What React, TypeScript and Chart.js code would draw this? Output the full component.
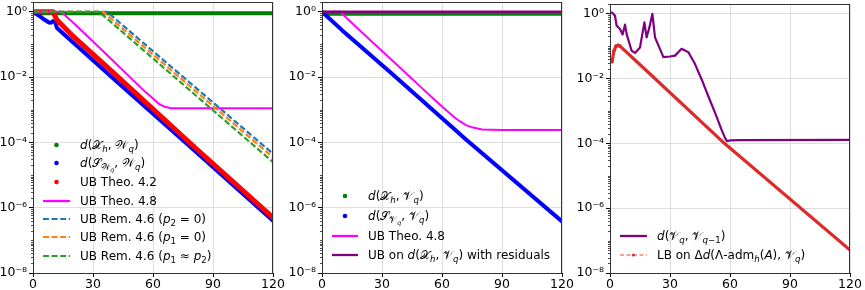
import React, { useEffect, useRef } from 'react';
import { Chart, registerables } from 'chart.js';
Chart.register(...registerables);

const FONT = "'DejaVu Sans', sans-serif";

const X_TICKS = [0, 30, 60, 90, 120];
const Y_TICK_VALUES = [1, 1e-2, 1e-4, 1e-6, 1e-8];
const Y_TICK_LABELS = ['10\u2070', '10\u207B\u00B2', '10\u207B\u2074', '10\u207B\u2076', '10\u207B\u2078'];
const Y_MIN = 1e-8;
const Y_MAX = 2;

// ---------- Panel 1 ----------
const p1XhWqQ = [0, 120];
const p1XhWqV = [0.9, 0.9];
const p1SWqQ = [0, 3, 6, 8, 9, 10, 11, 12, 40, 80, 120];
const p1SWqV = [1.0, 0.76, 0.56, 0.47, 0.46, 0.52, 0.5, 0.32, 9.3e-3, 6.2e-5, 4.0e-7];
const p1UB42Q = [0, 10, 12, 20, 40, 80, 120];
const p1UB42V = [1, 1, 0.56, 0.18, 1.4e-2, 7.9e-5, 5.0e-7];
const p1UB48Q = [0, 14, 20, 30, 40, 50, 56, 60, 63, 66, 69, 120];
const p1UB48V = [1, 1, 0.47, 0.123, 0.0316, 8.1e-3, 3.6e-3, 2.2e-3, 1.5e-3, 1.23e-3, 1.12e-3, 1.12e-3];
const p1Rem46p2Q = [0, 37, 120];
const p1Rem46p2V = [1, 1, 4.5e-5];
const p1Rem46p1Q = [0, 35, 120];
const p1Rem46p1V = [1, 1, 3.5e-5];
const p1Rem46eqQ = [0, 33, 120];
const p1Rem46eqV = [1, 1, 2.5e-5];

// ---------- Panel 2 ----------
const p2XhVqQ = [0, 120];
const p2XhVqV = [0.88, 0.88];
const p2SVqQ = [0, 10, 35, 72, 120];
const p2SVqV = [1, 0.275, 0.0126, 1.23e-4, 3.8e-7];
const p2UB48Q = [0, 9, 20, 30, 40, 50, 56, 60, 63, 66, 69, 72, 75, 80, 90, 120];
const p2UB48V = [1, 1, 0.234, 0.063, 0.017, 4.6e-3, 2.1e-3, 1.26e-3, 8.7e-4, 6.0e-4, 4.4e-4, 3.4e-4, 2.9e-4, 2.5e-4, 2.4e-4, 2.4e-4];
const p2ResQ = [0, 120];
const p2ResV = [1.0, 1.0];

// ---------- Panel 3 ----------
const p3VqQ = [1, 2.5, 3.3, 5, 6.3, 7.5, 8.3, 10.8, 12.5, 15, 17.2, 18.3, 19.7, 21.2, 22.5, 26.7, 30, 32.5, 35.8, 39.2, 42.5, 46, 49.2, 52.5, 55.8, 57.5, 58.5, 60, 65, 120];
const p3VqV = [1.1, 0.87, 0.43, 0.34, 0.23, 0.46, 0.24, 0.072, 0.062, 0.091, 0.54, 0.186, 0.38, 1.0, 0.186, 0.046, 0.048, 0.051, 0.083, 0.065, 0.028, 8.9e-3, 2.8e-3, 8.9e-4, 2.6e-4, 1.48e-4, 1.17e-4, 1.23e-4, 1.26e-4, 1.29e-4];
const p3LBQ = [1, 2, 3, 4, 5, 18, 56, 120];
const p3LBV = [0.033, 0.072, 0.1, 0.107, 0.1, 0.018, 1.17e-4, 5.1e-8];

const toPts = (q: number[], v: number[]) => q.map((x, i) => ({ x, y: v[i] }));

const ds = (q: number[], v: number[], color: string, width: number, extra: any = {}) => ({
  data: toPts(q, v),
  borderColor: color,
  backgroundColor: color,
  borderWidth: width,
  pointRadius: 0,
  fill: false,
  tension: 0,
  borderJoinStyle: 'round',
  borderCapStyle: 'round',
  ...extra,
});

const framePlugin = {
  id: 'frame',
  afterDraw(chart: any) {
    const { ctx, chartArea: a, scales } = chart;
    ctx.save();
    ctx.strokeStyle = '#333';
    ctx.lineWidth = 1;
    ctx.strokeRect(a.left + 0.5, a.top + 0.5, a.right - a.left - 1, a.bottom - a.top);
    const ys = scales.y;
    ctx.strokeStyle = '#000';
    ctx.lineWidth = 0.7;
    for (let e = -8; e <= 0; e++) {
      for (let m = 1; m < 10; m++) {
        const v = m * Math.pow(10, e);
        if (m === 1 && e % 2 === 0) continue;
        if (v > Y_MAX || v < Y_MIN) continue;
        const py = Math.round(ys.getPixelForValue(v)) + 0.5;
        ctx.beginPath();
        ctx.moveTo(a.left - 2, py);
        ctx.lineTo(a.left, py);
        ctx.stroke();
      }
    }
    ctx.restore();
  },
};

function Panel({ left, width, axisWidth, padRight, datasets }: any) {
  const ref = useRef<HTMLCanvasElement>(null);
  useEffect(() => {
    const n = datasets.length;
    const chart = new Chart(ref.current as HTMLCanvasElement, {
      type: 'line',
      data: { datasets: datasets.map((d: any, i: number) => ({ ...d, order: n - i })) },
      options: {
        animation: false,
        responsive: false,
        maintainAspectRatio: false,
        layout: { padding: { top: 2, right: padRight, left: 0, bottom: 0 } },
        plugins: { legend: { display: false }, tooltip: { enabled: false } },
        scales: {
          x: {
            type: 'linear',
            min: 0,
            max: 120,
            bounds: 'data',
            afterBuildTicks: (s: any) => {
              s.ticks = X_TICKS.map((v) => ({ value: v }));
            },
            afterFit: (s: any) => {
              s.height = 17;
              s.paddingLeft = 0;
              s.paddingRight = 0;
            },
            ticks: { font: { family: FONT, size: 12.5 }, color: '#000', padding: 0, maxRotation: 0, autoSkip: false },
            grid: { color: '#dedede', tickColor: '#000', tickLength: 4, lineWidth: 1 },
            border: { display: false },
          },
          y: {
            type: 'logarithmic',
            min: Y_MIN,
            max: Y_MAX,
            bounds: 'data',
            afterBuildTicks: (s: any) => {
              s.ticks = Y_TICK_VALUES.map((v) => ({ value: v }));
            },
            afterFit: (s: any) => {
              s.width = axisWidth;
              s.paddingTop = 0;
              s.paddingBottom = 0;
            },
            ticks: {
              font: { family: FONT, size: 12.5 },
              color: '#000',
              padding: 2,
              autoSkip: false,
              callback: (v: any) => {
                const i = Y_TICK_VALUES.findIndex((t) => Math.abs(Math.log10(t) - Math.log10(v)) < 1e-6);
                return i >= 0 ? Y_TICK_LABELS[i] : '';
              },
            },
            grid: { color: '#dedede', tickColor: '#000', tickLength: 4, lineWidth: 1 },
            border: { display: false },
          },
        },
      },
      plugins: [framePlugin],
    } as any);
    return () => chart.destroy();
  }, []);
  return <canvas ref={ref} width={width} height={290} style={{ position: 'absolute', left, top: 0 }} />;
}

const Sub = ({ children }: any) => (
  <sub style={{ fontSize: '72%', verticalAlign: '-0.3em', lineHeight: 0 }}>{children}</sub>
);
const I = ({ children }: any) => <i>{children}</i>;

const SX = '\u{1D4B3}';
const SW = '\u{1D4B2}';
const SV = '\u{1D4B1}';
const SS = '\u{1D4AE}';

function Marker({ kind, color, x0, x1, cy }: any) {
  const w = x1 - x0;
  return (
    <svg width={w + 6} height={12} style={{ position: 'absolute', left: x0 - 3, top: cy - 6 }}>
      {kind === 'dot' && <circle cx={3 + w / 2} cy={6} r={2.3} fill={color} />}
      {kind === 'line' && <line x1={3} y1={6} x2={3 + w} y2={6} stroke={color} strokeWidth={2.3} />}
      {kind === 'dash' && (
        <line x1={3} y1={6} x2={3 + w} y2={6} stroke={color} strokeWidth={2.2} strokeDasharray="6 2.6" />
      )}
      {kind === 'dashdot' && (
        <g>
          <line x1={3} y1={6} x2={3 + w} y2={6} stroke="#ee8080" strokeWidth={1.6} strokeDasharray="4 2.5" />
          <circle cx={3 + w / 2} cy={6} r={1.6} fill={color} />
        </g>
      )}
    </svg>
  );
}

function Entry({ kind, color, x0, x1, tx, cy, children }: any) {
  return (
    <>
      <Marker kind={kind} color={color} x0={x0} x1={x1} cy={cy} />
      <div
        style={{
          position: 'absolute',
          left: tx,
          top: cy - 8,
          height: 16,
          lineHeight: '16px',
          fontFamily: FONT,
          fontSize: 12,
          color: '#000',
          whiteSpace: 'nowrap',
        }}
      >
        {children}
      </div>
    </>
  );
}

export default function App() {
  const dash = { borderDash: [6, 2.6], borderCapStyle: 'butt' };
  const p1 = [
    ds(p1XhWqQ, p1XhWqV, '#008000', 4),
    ds(p1SWqQ, p1SWqV, '#0000ff', 4),
    ds(p1UB42Q, p1UB42V, '#ff0000', 5),
    ds(p1UB48Q, p1UB48V, '#ff00ff', 2),
    ds(p1Rem46p2Q, p1Rem46p2V, '#1f77b4', 2.2, dash),
    ds(p1Rem46p1Q, p1Rem46p1V, '#ff7f0e', 2.2, dash),
    ds(p1Rem46eqQ, p1Rem46eqV, '#2ca02c', 2.2, dash),
  ];
  const p2 = [
    ds(p2XhVqQ, p2XhVqV, '#008000', 4),
    ds(p2SVqQ, p2SVqV, '#0000ff', 4),
    ds(p2UB48Q, p2UB48V, '#ff00ff', 2),
    ds(p2ResQ, p2ResV, '#800080', 2.5),
  ];
  const p3 = [
    ds(p3VqQ, p3VqV, '#800080', 2.2),
    ds(p3LBQ, p3LBV, '#dd2a2a', 3.2, {
      pointRadius: (c: any) => (c.dataIndex < 5 ? 1.8 : 0),
      pointBorderWidth: 0,
      pointBackgroundColor: '#dd2a2a',
    }),
  ];

  return (
    <div style={{ position: 'fixed', left: 0, top: 0, width: 865, height: 290, background: '#fff', overflow: 'hidden' }}>
      <Panel left={0} width={290} axisWidth={33} padRight={17} datasets={p1} />
      <Panel left={290} width={285} axisWidth={32} padRight={13} datasets={p2} />
      <Panel left={575} width={290} axisWidth={35} padRight={15} datasets={p3} />

      {/* Panel 1 legend */}
      <Entry kind="dot" color="#008000" x0={43} x1={70} tx={80} cy={144.5}>
        <I>d</I>({SX}<Sub><I>h</I></Sub>, {SW}<Sub><I>q</I></Sub>)
      </Entry>
      <Entry kind="dot" color="#0000ff" x0={43} x1={70} tx={80} cy={163}>
        <I>d</I>({SS}<Sub>{SW}<Sub><I>q</I></Sub></Sub>, {SW}<Sub><I>q</I></Sub>)
      </Entry>
      <Entry kind="dot" color="#ff0000" x0={43} x1={70} tx={80} cy={182}>
        UB Theo. 4.2
      </Entry>
      <Entry kind="line" color="#ff00ff" x0={43} x1={70} tx={80} cy={200.5}>
        UB Theo. 4.8
      </Entry>
      <Entry kind="dash" color="#1f77b4" x0={43} x1={70} tx={80} cy={219}>
        UB Rem. 4.6 (<I>p</I><Sub>2</Sub> = 0)
      </Entry>
      <Entry kind="dash" color="#ff7f0e" x0={43} x1={70} tx={80} cy={237.3}>
        UB Rem. 4.6 (<I>p</I><Sub>1</Sub> = 0)
      </Entry>
      <Entry kind="dash" color="#2ca02c" x0={43} x1={70} tx={80} cy={255.5}>
        UB Rem. 4.6 (<I>p</I><Sub>1</Sub> ≈ <I>p</I><Sub>2</Sub>)
      </Entry>

      {/* Panel 2 legend */}
      <Entry kind="dot" color="#008000" x0={332} x1={358} tx={368} cy={196}>
        <I>d</I>({SX}<Sub><I>h</I></Sub>, {SV}<Sub><I>q</I></Sub>)
      </Entry>
      <Entry kind="dot" color="#0000ff" x0={332} x1={358} tx={368} cy={216}>
        <I>d</I>({SS}<Sub>{SV}<Sub><I>q</I></Sub></Sub>, {SV}<Sub><I>q</I></Sub>)
      </Entry>
      <Entry kind="line" color="#ff00ff" x0={332} x1={358} tx={368} cy={236}>
        UB Theo. 4.8
      </Entry>
      <Entry kind="line" color="#800080" x0={332} x1={358} tx={368} cy={254.5}>
        UB on <I>d</I>({SX}<Sub><I>h</I></Sub>, {SV}<Sub><I>q</I></Sub>) with residuals
      </Entry>

      {/* Panel 3 legend */}
      <Entry kind="line" color="#800080" x0={620} x1={647} tx={657} cy={236}>
        <I>d</I>({SV}<Sub><I>q</I></Sub>, {SV}<Sub><I>q</I>−1</Sub>)
      </Entry>
      <Entry kind="dashdot" color="#dd2a2a" x0={620} x1={647} tx={657} cy={255}>
        LB on Δ<I>d</I>(Λ-adm<Sub><I>h</I></Sub>(<I>A</I>), {SV}<Sub><I>q</I></Sub>)
      </Entry>
    </div>
  );
}
